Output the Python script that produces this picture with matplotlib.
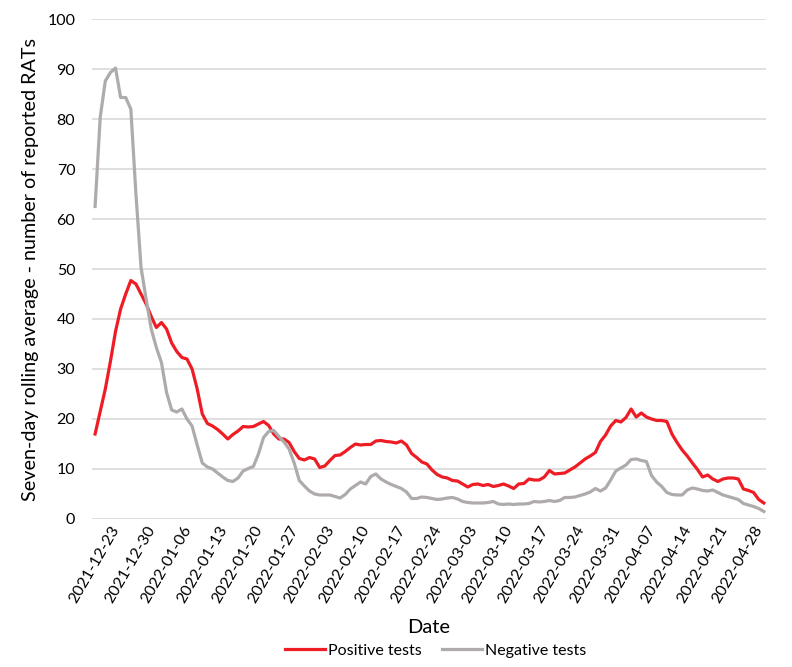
import numpy as np
import pandas as pd
import matplotlib
matplotlib.use("Agg")
import matplotlib.pyplot as plt
import matplotlib.dates as mdates

# seven-day rolling averages, one value per day from 2021-12-20
start_date = "2021-12-20"
positive_tests = [
    17, 21.5, 26, 31.5, 37.5, 42, 45, 47.7, 47, 45,
    43, 40.5, 38.3, 39.3, 38, 35.2, 33.5, 32.3, 32, 30,
    26, 21, 19.1, 18.6, 17.9, 17, 16, 16.9, 17.6, 18.5,
    18.4, 18.5, 19, 19.5, 18.7, 17, 16, 16, 15.3, 13.5,
    12.1, 11.8, 12.3, 12, 10.3, 10.6, 11.7, 12.7, 12.8, 13.5,
    14.3, 15, 14.8, 14.9, 14.9, 15.6, 15.7, 15.5, 15.4, 15.2,
    15.6, 14.8, 13.1, 12.3, 11.4, 11, 9.8, 8.9, 8.4, 8.2,
    7.7, 7.6, 7, 6.4, 6.9, 7, 6.7, 6.9, 6.5, 6.7,
    7, 6.6, 6.1, 7, 7.1, 8, 7.8, 7.8, 8.4, 9.7,
    9, 9.1, 9.2, 9.8, 10.4, 11.2, 12, 12.6, 13.3, 15.5,
    16.8, 18.6, 19.7, 19.4, 20.3, 22, 20.4, 21.2, 20.4, 20,
    19.7, 19.7, 19.5, 17, 15.3, 13.8, 12.6, 11.2, 9.9, 8.4,
    8.8, 8, 7.5, 8, 8.2, 8.2, 8, 6, 5.7, 5.3,
    3.9, 3.2,
]
negative_tests = [
    62.5, 80.3, 87.6, 89.3, 90.2, 84.3, 84.3, 82, 65, 50.3,
    44, 38, 34.3, 31.3, 25.3, 21.8, 21.4, 22, 20, 18.6,
    14.8, 11.2, 10.4, 10, 9.2, 8.4, 7.7, 7.5, 8.2, 9.6,
    10.1, 10.5, 13, 16.3, 17.5, 17.7, 16.5, 15.4, 14, 11.2,
    7.7, 6.6, 5.6, 5, 4.8, 4.8, 4.8, 4.5, 4.2, 4.9,
    6, 6.7, 7.4, 7, 8.5, 9, 8, 7.4, 6.9, 6.5,
    6.1, 5.4, 4.1, 4.1, 4.4, 4.3, 4.1, 3.9, 4, 4.2,
    4.3, 4, 3.5, 3.3, 3.2, 3.2, 3.2, 3.3, 3.5, 3,
    2.9, 3, 2.9, 3, 3, 3.1, 3.5, 3.4, 3.5, 3.7,
    3.5, 3.7, 4.3, 4.3, 4.4, 4.7, 5, 5.4, 6.1, 5.6,
    6.2, 7.8, 9.6, 10.2, 10.8, 11.9, 12, 11.7, 11.5, 8.7,
    7.4, 6.5, 5.3, 4.9, 4.8, 4.8, 5.8, 6.2, 6, 5.7,
    5.6, 5.8, 5.3, 4.8, 4.5, 4.2, 3.9, 3.1, 2.8, 2.5,
    2.1, 1.5,
]
dates = pd.date_range(start_date, periods=len(positive_tests), freq="D")
tick_dates = pd.date_range("2021-12-23", "2022-04-28", freq="7D")

plt.rcParams["font.family"] = ["Lato", "DejaVu Sans"]

fig = plt.figure(figsize=(7.92, 6.67), dpi=100)
ax = fig.add_axes([0.1162, 0.2219, 0.8508, 0.7496])

ax.plot(dates, positive_tests, color="#ee1c25", linewidth=2.3, label="Positive tests",
        solid_joinstyle="round")
ax.plot(dates, negative_tests, color="#afabab", linewidth=2.3, label="Negative tests",
        solid_joinstyle="round")

ax.set_ylim(0, 100)
ax.set_xlim(dates[0] - pd.Timedelta(days=0.6), dates[-1] + pd.Timedelta(days=0.4))
ax.yaxis.set_major_locator(plt.MultipleLocator(10))
ax.grid(True, axis="y", color="#d9d9d9", linewidth=1.2)
ax.set_axisbelow(True)
for s in ax.spines.values():
    s.set_visible(False)
ax.tick_params(axis="both", length=0, labelsize=11.5, colors="black")
ax.tick_params(axis="y", pad=12)
ax.tick_params(axis="x", pad=3)

ax.set_xticks(tick_dates)
ax.xaxis.set_major_formatter(mdates.DateFormatter("%Y-%m-%d"))
plt.setp(ax.get_xticklabels(), rotation=60, ha="right", rotation_mode="anchor")

ax.set_ylabel("Seven-day rolling average - number of reported RATs", fontsize=14.2, labelpad=6)
ax.set_xlabel("Date", fontsize=14.5)
ax.xaxis.set_label_coords(0.5, -0.2)

fig.legend(loc="center", ncol=2, frameon=False, fontsize=11.5,
           bbox_to_anchor=(0.55, 0.024), handlelength=2.5, handletextpad=0.15,
           columnspacing=1.3)

fig.savefig("out.png", dpi=100)
